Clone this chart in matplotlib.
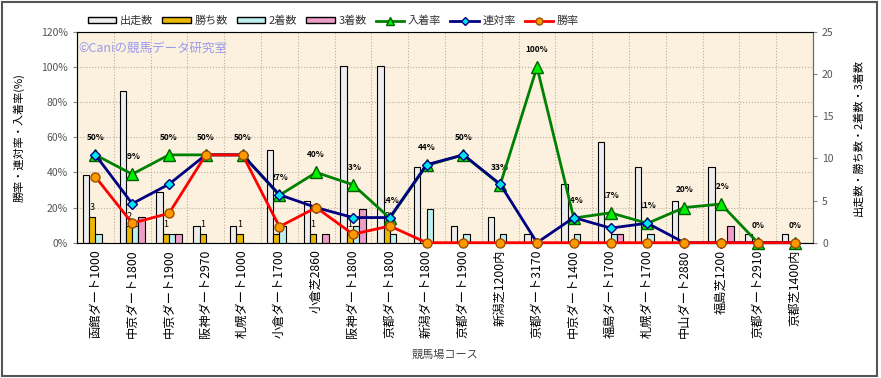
import numpy as np
import matplotlib.pyplot as plt
from matplotlib.patches import Patch, Rectangle
from matplotlib.lines import Line2D

plt.rcParams['font.family'] = ['Noto Sans CJK JP', 'DejaVu Sans']

courses = ['函館ダート1000', '中京ダート1800', '中京ダート1900', '阪神ダート2970',
           '札幌ダート1000', '小倉ダート1700', '小倉芝2860', '阪神ダート1800',
           '京都ダート1800', '新潟ダート1800', '京都ダート1900', '新潟芝1200内',
           '京都ダート3170', '中京ダート1400', '福島ダート1700', '札幌ダート1700',
           '中山ダート2880', '福島芝1200', '京都ダート2910', '京都芝1400内']
starts = [8, 18, 6, 2, 2, 11, 5, 21, 21, 9, 2, 3, 1, 7, 12, 9, 5, 9, 1, 1]
wins = [3, 2, 1, 1, 1, 1, 1, 1, 2, 0, 0, 0, 0, 0, 0, 0, 0, 0, 0, 0]
seconds = [1, 2, 1, 0, 0, 2, 0, 2, 1, 4, 1, 1, 0, 1, 1, 1, 0, 0, 0, 0]
thirds = [0, 3, 1, 0, 0, 0, 1, 4, 0, 0, 0, 0, 0, 0, 1, 0, 0, 2, 0, 0]
place_rate = [50, 39, 50, 50, 50, 27, 40, 33, 14, 44, 50, 33, 100, 14, 17, 11, 20, 22, 0, 0]
rentai_rate = [50, 22.2, 33.3, 50, 50, 27.3, 20, 14.3, 14.3, 44.4, 50, 33.3, 0, 14.3, 8.3, 11.1, 0, 0, 0, 0]
win_rate = [37.5, 11.1, 16.7, 50, 50, 9.1, 20, 4.8, 9.5, 0, 0, 0, 0, 0, 0, 0, 0, 0, 0, 0]

x = np.arange(len(courses))
c_start, c_win, c_2nd, c_3rd = '#EDEDED', '#EBB800', '#BDEFEF', '#EE9CC8'

fig = plt.figure(figsize=(8.81, 3.78), dpi=100)
ax = fig.add_axes([0.0874, 0.358, 0.8354, 0.5575])
ax.set_facecolor('#FBF1DE')
ax.set_xlim(-0.5, len(courses) - 0.5)
ax.set_ylim(0, 120)
ax.set_yticks(range(0, 121, 20))
ax.set_yticklabels([f'{v}%' for v in range(0, 121, 20)])
ax.set_xticks(x)
ax.set_xticklabels(courses, rotation=90, fontsize=8.8)
ax.set_xticks(np.arange(-0.5, len(courses), 1), minor=True)
ax.grid(axis='y', color='#B8B0A0', ls=':', lw=0.8)
ax.grid(axis='x', which='minor', color='#B8B0A0', ls=':', lw=0.8)
ax.tick_params(axis='x', which='both', length=0, pad=5)
ax.tick_params(axis='y', labelsize=7.5, labelcolor='#555555', length=3, color='#888888')
for s in ax.spines.values():
    s.set_color('#999999')
ax.spines['left'].set_color('#666666')
ax.set_ylabel('勝率・連対率・入着率(%)', fontsize=8, labelpad=12)
ax.set_xlabel('競馬場コース', fontsize=8, color='#444444', labelpad=8)

# place-rate labels, below the bars
for xi, v in zip(x, place_rate):
    ax.text(xi, v + 7.5, f'{v}%', ha='center', va='bottom', fontsize=6, fontweight='bold')

ax.text(-0.45, 110.5, '©Caniの競馬データ研究室', fontsize=9, color='#9A9AEE', va='center')

# counts on right axis
ax2 = ax.twinx()
ax2.set_ylim(0, 25)
ax2.set_yticks(range(0, 26, 5))
ax2.tick_params(axis='y', labelsize=7.5, labelcolor='#555555', length=3, color='#888888')
ax2.spines['right'].set_color('#666666')
ax2.set_ylabel('出走数・勝ち数・2着数・3着数', fontsize=8, labelpad=14)
w = 0.17
for k, (vals, col) in enumerate([(starts, c_start), (wins, c_win), (seconds, c_2nd), (thirds, c_3rd)]):
    ax2.bar(x + (k - 1.5) * w, vals, w, color=col, edgecolor='black', linewidth=0.8)
for xi, v in zip(x, wins):
    if v > 0:
        ax2.text(xi - 0.5 * w, v + 0.6, str(v), ha='center', va='bottom', fontsize=6.5)

# rate lines on top
ax3 = ax.twinx()
ax3.set_ylim(0, 120)
ax3.axis('off')
ax3.plot(x, place_rate, color='#008000', lw=2, marker='^', ms=8, mfc='#00EE00', mec='#006000', clip_on=False)
ax3.plot(x, rentai_rate, color='#000080', lw=2, marker='D', ms=5.5, mfc='#00E5EE', mec='#000080', clip_on=False)
ax3.plot(x, win_rate, color='#FF0000', lw=2, marker='o', ms=6.5, mfc='#FF9900', mec='#A05000', clip_on=False)

handles = [Patch(fc=c_start, ec='black'), Patch(fc=c_win, ec='black'),
           Patch(fc=c_2nd, ec='black'), Patch(fc=c_3rd, ec='black'),
           Line2D([], [], color='#008000', lw=2, marker='^', ms=6, mfc='#00EE00', mec='#006000'),
           Line2D([], [], color='#000080', lw=2, marker='D', ms=4, mfc='#00E5EE', mec='#000080'),
           Line2D([], [], color='#FF0000', lw=2, marker='o', ms=5, mfc='#FF9900', mec='#A05000')]
labels = ['出走数', '勝ち数', '2着数', '3着数', '入着率', '連対率', '勝率']
fig.legend(handles, labels, loc='center left', bbox_to_anchor=(0.088, 0.945), ncol=7,
           frameon=False, fontsize=8, handlelength=2.6, handleheight=0.45,
           columnspacing=0.8, handletextpad=0.3, labelcolor='#333333')

fig.patches.append(Rectangle((0.002, 0.004), 0.993, 0.99, transform=fig.transFigure,
                             fill=False, ec='#555555', lw=1.5))

fig.savefig('out.png', dpi=100)
